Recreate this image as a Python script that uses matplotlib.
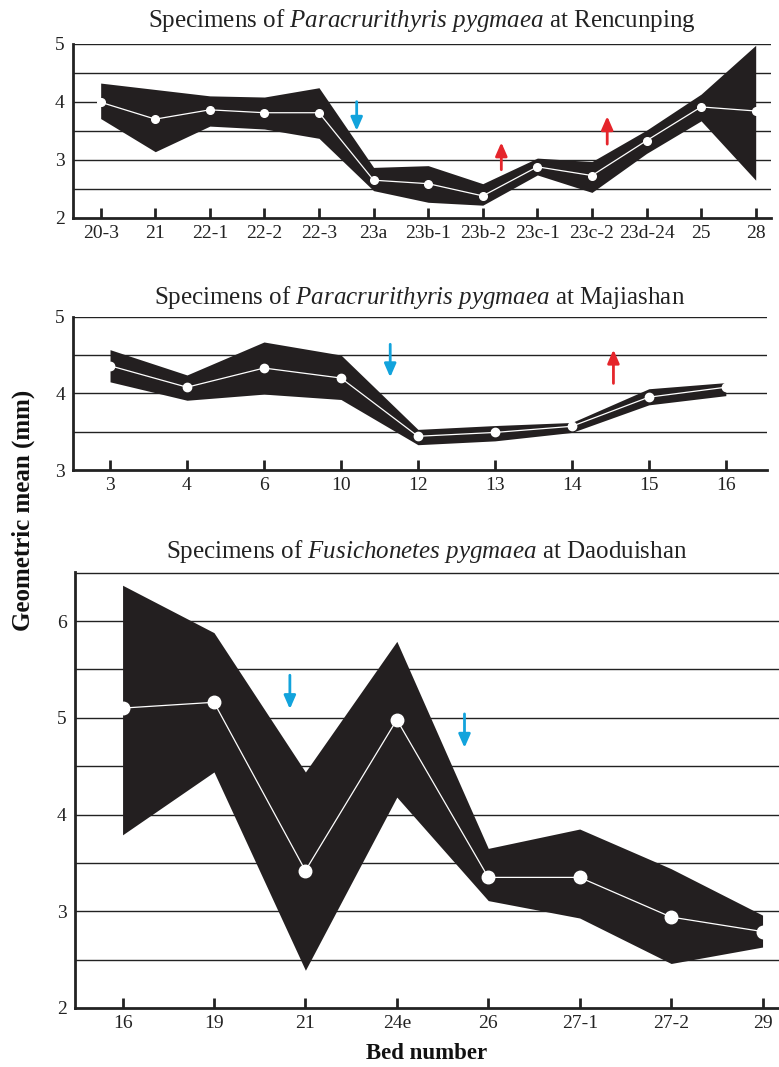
import matplotlib.pyplot as plt
import numpy as np

plt.rcParams["font.family"] = ["Liberation Serif", "DejaVu Serif"]
plt.rcParams["mathtext.fontset"] = "custom"
plt.rcParams["mathtext.rm"] = "Liberation Serif"
plt.rcParams["mathtext.it"] = "Liberation Serif:italic"

BAND = "#231f20"
BLUE = "#12a3dc"
RED = "#e5252b"

# Rencunping
ren_beds = ["20-3", "21", "22-1", "22-2", "22-3", "23a", "23b-1", "23b-2",
            "23c-1", "23c-2", "23d-24", "25", "28"]
ren_mean = [3.99, 3.70, 3.86, 3.81, 3.81, 2.65, 2.59, 2.38, 2.88, 2.73, 3.33, 3.91, 3.84]
ren_upper = [4.32, 4.21, 4.10, 4.08, 4.24, 2.87, 2.90, 2.59, 3.03, 2.97, 3.51, 4.13, 4.97]
ren_lower = [3.71, 3.14, 3.58, 3.53, 3.37, 2.47, 2.27, 2.22, 2.74, 2.44, 3.11, 3.67, 2.65]
ren_blue = [(4.69, 4.0, 3.5)]
ren_red = [(7.34, 2.83, 3.30), (9.28, 3.27, 3.75)]

# Majiashan
maj_beds = ["3", "4", "6", "10", "12", "13", "14", "15", "16"]
maj_mean = [4.36, 4.08, 4.33, 4.20, 3.44, 3.49, 3.57, 3.95, 4.08]
maj_upper = [4.57, 4.24, 4.67, 4.50, 3.53, 3.58, 3.62, 4.06, 4.14]
maj_lower = [4.15, 3.91, 3.99, 3.92, 3.33, 3.38, 3.49, 3.85, 3.97]
maj_blue = [(3.64, 4.64, 4.21)]
maj_red = [(6.54, 4.13, 4.57)]

# Daoduishan
dao_beds = ["16", "19", "21", "24e", "26", "27-1", "27-2", "29"]
dao_mean = [5.10, 5.16, 3.42, 4.98, 3.35, 3.35, 2.94, 2.79]
dao_upper = [6.37, 5.88, 4.44, 5.79, 3.65, 3.85, 3.44, 2.96]
dao_lower = [3.79, 4.44, 2.39, 4.18, 3.11, 2.93, 2.46, 2.63]
dao_blue = [(1.83, 5.44, 5.09), (3.74, 5.04, 4.69)]
dao_red = []


def panel(ax, beds, mean, upper, lower, blue, red, ylim, xlim, title, msize, tpad):
    x = np.arange(len(beds))
    ax.fill_between(x, lower, upper, color=BAND, lw=0, zorder=2)
    ax.plot(x, mean, color="white", lw=0.9, marker="o", ms=msize,
            mfc="white", mec="white", zorder=3, clip_on=False)
    for v in np.arange(ylim[0] + 0.5, ylim[1] + 0.01, 0.5):
        ax.axhline(v, color="#222222", lw=1.0, zorder=1)
    arrows = [(a, BLUE) for a in blue] + [(a, RED) for a in red]
    for (xa, y0, y1), c in arrows:
        ax.annotate("", xy=(xa, y1), xytext=(xa, y0),
                    arrowprops=dict(arrowstyle="-|>,head_width=0.35,head_length=0.8",
                                    color=c, lw=2, shrinkA=0, shrinkB=0), zorder=4)
    ax.set_xlim(*xlim)
    ax.set_ylim(*ylim)
    ax.set_xticks(x)
    ax.set_xticklabels(beds, fontsize=14, color="#222222")
    ax.set_yticks(np.arange(np.ceil(ylim[0]), np.floor(ylim[1]) + 0.01, 1))
    ax.set_yticklabels([str(int(v)) for v in ax.get_yticks()], fontsize=14, color="#222222")
    ax.tick_params(axis="x", direction="in", length=7, width=2, pad=5, color="#222222")
    ax.tick_params(axis="y", length=0, pad=6)
    for s in ["top", "right"]:
        ax.spines[s].set_visible(False)
    for s in ["left", "bottom"]:
        ax.spines[s].set_linewidth(2)
        ax.spines[s].set_color("#222222")
    ax.set_title(title, fontsize=18, pad=tpad, color="#222222")


fig = plt.figure(figsize=(7.79, 10.67), dpi=100)
ax1 = fig.add_axes([0.0937, 0.7957, 0.896, 0.1635])
ax2 = fig.add_axes([0.0941, 0.5595, 0.890, 0.1437])
ax3 = fig.add_axes([0.0963, 0.0553, 0.9037, 0.4089])

panel(ax1, ren_beds, ren_mean, ren_upper, ren_lower, ren_blue, ren_red,
      (2, 5), (-0.507, 12.28),
      r"Specimens of $\mathit{Paracrurithyris\ pygmaea}$ at Rencunping", 5.5, 12)
panel(ax2, maj_beds, maj_mean, maj_upper, maj_lower, maj_blue, maj_red,
      (3, 5), (-0.477, 8.53),
      r"Specimens of $\mathit{Paracrurithyris\ pygmaea}$ at Majiashan", 6, 9)
panel(ax3, dao_beds, dao_mean, dao_upper, dao_lower, dao_blue, dao_red,
      (2, 6.51), (-0.52, 7.18),
      r"Specimens of $\mathit{Fusichonetes\ pygmaea}$ at Daoduishan", 9, 10)

fig.text(0.03, 0.522, "Geometric mean (mm)", rotation=90, ha="center", va="center",
         fontsize=18, fontweight="bold", color="#111111")
ax3.set_xlabel("Bed number", fontsize=16.5, fontweight="bold", labelpad=8, color="#111111")

fig.savefig("out.png", dpi=100)
